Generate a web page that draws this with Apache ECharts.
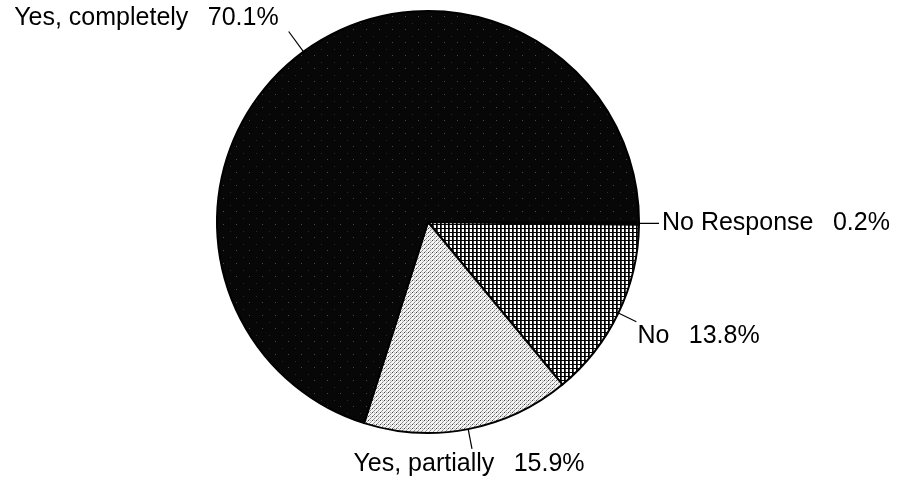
<!DOCTYPE html>
<html>
<head>
<meta charset="utf-8">
<script src="https://cdn.jsdelivr.net/npm/echarts@6/dist/echarts.min.js"></script>
<style>
html,body{margin:0;padding:0;background:#fff;}
#chart{width:901px;height:481px;}
</style>
</head>
<body>
<div id="chart"></div>
<script>
// Data (clockwise from 3 o'clock)
var categories = ['No Response', 'No', 'Yes, partially', 'Yes, completely'];
var percents = [0.2, 13.8, 15.9, 70.1];

function makePattern(size, draw) {
  var c = document.createElement('canvas');
  c.width = size; c.height = size;
  var ctx = c.getContext('2d');
  draw(ctx);
  return c;
}
var darkPat = makePattern(13, function (ctx) {
  ctx.fillStyle = '#070707'; ctx.fillRect(0, 0, 13, 13);
  ctx.fillStyle = '#4a4a4a'; ctx.fillRect(2, 3, 1, 1);
  ctx.fillStyle = '#2a2a2a'; ctx.fillRect(9, 10, 1, 1);
});
var lightPat = makePattern(4, function (ctx) {
  ctx.fillStyle = '#f4f4f4'; ctx.fillRect(0, 0, 4, 4);
  ctx.fillStyle = '#444444'; ctx.fillRect(0, 0, 1, 1);
  ctx.fillStyle = '#888888'; ctx.fillRect(2, 2, 1, 1);
  ctx.fillStyle = '#999999'; ctx.fillRect(1, 3, 1, 1);
  ctx.fillStyle = '#aaaaaa'; ctx.fillRect(3, 1, 1, 1);
  ctx.fillStyle = '#bbbbbb'; ctx.fillRect(2, 0, 1, 1);
});
var gridPat = makePattern(4, function (ctx) {
  ctx.fillStyle = '#ffffff'; ctx.fillRect(0, 0, 4, 4);
  ctx.fillStyle = '#000000'; ctx.fillRect(0, 0, 1, 4);
  ctx.fillStyle = '#444444'; ctx.fillRect(1, 0, 1, 4);
  ctx.fillStyle = '#000000'; ctx.fillRect(0, 0, 4, 1);
});
var fills = [
  '#000000',
  { image: gridPat, repeat: 'repeat' },
  { image: lightPat, repeat: 'repeat' },
  { image: darkPat, repeat: 'repeat' }
];

var data = categories.map(function (name, i) {
  var item = { name: name, value: percents[i], itemStyle: { color: fills[i] } };
  if (i === 3) item.labelLine = { length: 25 };
  return item;
});

var chart = echarts.init(document.getElementById('chart'), null, { renderer: 'canvas' });
chart.setOption({
  animation: false,
  backgroundColor: '#ffffff',
  series: [{
    type: 'pie',
    center: [428, 222],
    radius: 211,
    startAngle: 0,
    clockwise: true,
    avoidLabelOverlap: false,
    silent: true,
    data: data,
    itemStyle: { borderColor: '#000', borderWidth: 2 },
    label: {
      show: true,
      position: 'outside',
      color: '#000',
      fontFamily: 'Liberation Sans, Arial, sans-serif',
      fontSize: 25,
      formatter: function (p) { return p.name + '\u2002 ' + p.value.toFixed(1) + '%'; }
    },
    labelLine: {
      show: true,
      length: 20,
      length2: 0,
      smooth: false,
      lineStyle: { color: '#000', width: 1.2 }
    },
    labelLayout: function (p) {
      var pts = p.labelLinePoints;
      if (!pts) return {};
      var end = pts[1];
      var i = p.dataIndex;
      if (i === 0) return { x: end[0] + 3, y: end[1], align: 'left', verticalAlign: 'middle', labelLinePoints: [pts[0], end] };
      if (i === 1) return { x: end[0] + 1, y: end[1] + 14, align: 'left', verticalAlign: 'middle', labelLinePoints: [pts[0], end] };
      if (i === 2) return { x: end[0] - 3, y: end[1] + 15, align: 'center', verticalAlign: 'middle', labelLinePoints: [pts[0], end] };
      return { x: end[0] - 10, y: end[1] - 13, align: 'right', verticalAlign: 'middle', labelLinePoints: [pts[0], end] };
    }
  }]
});
</script>
</body>
</html>
